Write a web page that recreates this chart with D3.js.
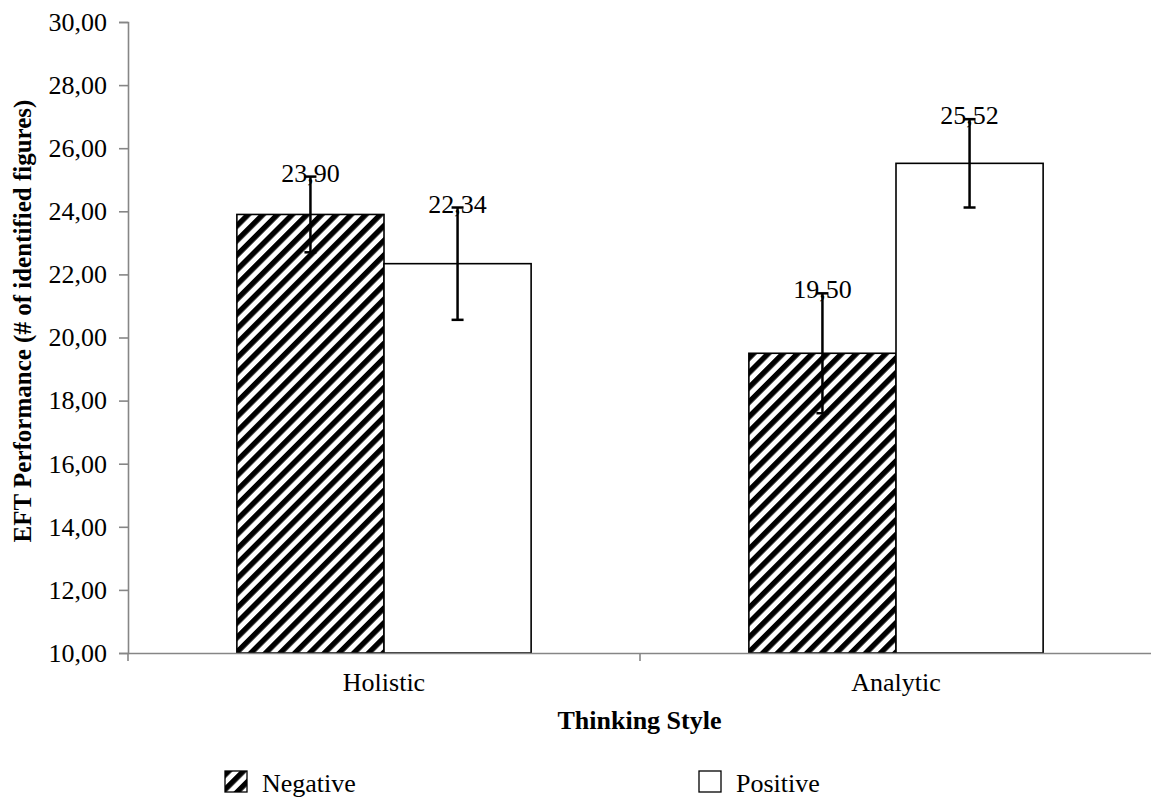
<!DOCTYPE html>
<html>
<head>
<meta charset="utf-8">
<script src="https://cdn.jsdelivr.net/npm/d3@7"></script>
<style>
	body { margin: 0; background: #fff; }
	svg text { font-family: "Liberation Serif", "Times New Roman", serif; fill: #000; }
</style>
</head>
<body>
<svg class="bar_chart" width="1151" height="798"></svg>
<script>
// chart data
var categories = ["Holistic", "Analytic"];
var seriesNames = ["Negative", "Positive"];
var negativeMeans = [23.90, 19.50];
var positiveMeans = [22.34, 25.52];
var negativeErrors = [1.20, 1.90];
var positiveErrors = [1.78, 1.40];
var yTicks = [10, 12, 14, 16, 18, 20, 22, 24, 26, 28, 30];

var svg = d3.select(".bar_chart");
var margin = { top: 22, right: 0, bottom: 145, left: 128 };
var width = +svg.attr("width") - margin.left - margin.right;
var height = +svg.attr("height") - margin.top - margin.bottom;

var comma = d3.formatLocale({ decimal: ",", thousands: ".", grouping: [3], currency: ["", ""] }).format(".2f");

var rows = [];
categories.forEach((c, i) => {
	rows.push({ cat: c, series: "Negative", value: negativeMeans[i], err: negativeErrors[i] });
	rows.push({ cat: c, series: "Positive", value: positiveMeans[i], err: positiveErrors[i] });
});

var defs = svg.append("defs");
defs.append("pattern")
	.attr("id", "hatch")
	.attr("patternUnits", "userSpaceOnUse")
	.attr("width", 10.4)
	.attr("height", 10.4)
	.attr("patternTransform", "rotate(45)")
	.call((p) => {
		p.append("rect").attr("width", 10.4).attr("height", 10.4).attr("fill", "#fff");
		p.append("rect").attr("width", 5.4).attr("height", 10.4).attr("fill", "#000");
	});

var fills = { Negative: "url(#hatch)", Positive: "#fff" };

var g = svg.append("g").attr("transform", "translate(" + margin.left + "," + margin.top + ")");

var x0 = d3.scaleBand().domain(categories).range([0, width + 1]).padding(0);
var x1 = d3.scaleBand().domain(seriesNames).range([0, x0.bandwidth()]).paddingInner(0).paddingOuter(0.74);
var y = d3.scaleLinear().domain([10, 30]).range([height, 0]);

// y axis
var yAxis = g.append("g")
	.call(d3.axisLeft(y).tickValues(yTicks).tickSize(9).tickPadding(12).tickFormat(comma));
yAxis.selectAll("text").style("font-size", "26px");

// bars
var group = g.selectAll(".cat")
	.data(categories)
	.enter().append("g")
		.attr("transform", (d) => "translate(" + x0(d) + ",0)");

group.selectAll("rect")
	.data((c) => rows.filter((r) => r.cat === c))
	.enter().append("rect")
		.attr("x", (d) => x1(d.series))
		.attr("y", (d) => y(d.value))
		.attr("width", x1.bandwidth())
		.attr("height", (d) => y(10) - y(d.value))
		.attr("fill", (d) => fills[d.series])
		.attr("stroke", "#000")
		.attr("stroke-width", 1.6);

// x axis drawn over bar bottoms
var xAxis = g.append("g")
	.attr("transform", "translate(0," + y(10) + ")")
	.call(d3.axisBottom(x0).tickSize(0).tickPadding(20));
xAxis.selectAll("text").style("font-size", "26px");
xAxis.selectAll(".bound")
	.data(d3.range(categories.length + 1))
	.enter().append("line")
		.attr("class", "bound")
		.attr("x1", (i) => i * x0.step())
		.attr("x2", (i) => i * x0.step())
		.attr("y1", 0)
		.attr("y2", 8);

svg.selectAll(".domain, .tick line, .bound")
	.attr("stroke", "#868686")
	.attr("stroke-width", 1.6);

// error bars
var cap = 6;
var err = group.selectAll(".err")
	.data((c) => rows.filter((r) => r.cat === c))
	.enter().append("g")
		.attr("transform", (d) => "translate(" + (x1(d.series) + x1.bandwidth() / 2) + ",0)");

err.append("line")
	.attr("y1", (d) => y(d.value + d.err))
	.attr("y2", (d) => y(d.value - d.err));
err.append("line")
	.attr("x1", -cap).attr("x2", cap)
	.attr("y1", (d) => y(d.value + d.err))
	.attr("y2", (d) => y(d.value + d.err));
err.append("line")
	.attr("x1", -cap).attr("x2", cap)
	.attr("y1", (d) => y(d.value - d.err))
	.attr("y2", (d) => y(d.value - d.err));
err.selectAll("line").attr("stroke", "#000").attr("stroke-width", 2.5);

err.append("text")
	.attr("y", (d) => y(d.value + d.err) + 5)
	.attr("text-anchor", "middle")
	.style("font-size", "26px")
	.text((d) => comma(d.value));

// axis titles
svg.append("text")
	.attr("x", margin.left + width / 2)
	.attr("y", 729)
	.attr("text-anchor", "middle")
	.style("font-size", "26px")
	.style("font-weight", "bold")
	.text("Thinking Style");

svg.append("text")
	.attr("transform", "translate(31,321) rotate(-90)")
	.attr("text-anchor", "middle")
	.style("font-size", "25px")
	.style("font-weight", "bold")
	.text("EFT Performance (# of identified figures)");

// legend
var legendX = [225, 699];
var legend = svg.selectAll(".legend")
	.data(seriesNames)
	.enter().append("g")
		.attr("transform", (d, i) => "translate(" + legendX[i] + ",771)");
legend.append("rect")
	.attr("width", 22).attr("height", 21)
	.attr("fill", (d) => fills[d])
	.attr("stroke", "#000")
	.attr("stroke-width", 1.3);
legend.append("text")
	.attr("x", 37)
	.attr("y", 21)
	.style("font-size", "26px")
	.text((d) => d);
</script>
</body>
</html>
